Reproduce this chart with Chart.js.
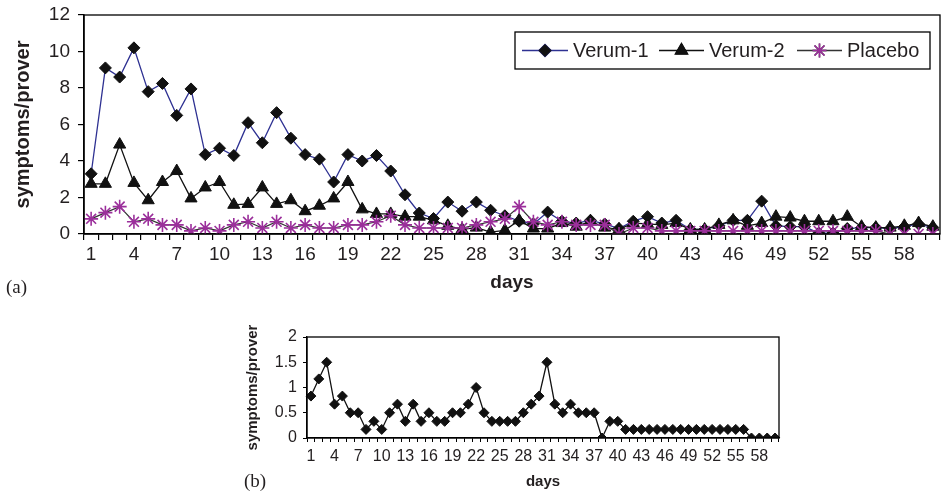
<!DOCTYPE html>
<html>
<head>
<meta charset="utf-8">
<title>symptoms per prover</title>
<script src="https://cdn.jsdelivr.net/npm/chart.js@4.4.0/dist/chart.umd.min.js"></script>
<style>
  body { margin: 0; background: #fff; width: 941px; height: 492px; overflow: hidden; position: relative; }
  #wrapA { position: absolute; left: 0; top: 0; width: 941px; height: 300px; }
  #wrapB { position: absolute; left: 228px; top: 320px; width: 562px; height: 172px; }
  .tag { position: absolute; font-family: "Liberation Serif", "Times New Roman", serif; font-size: 19px; color: #231f20; }
</style>
</head>
<body>
<div id="wrapA"><canvas id="chartA" width="941" height="300"></canvas></div>
<div id="wrapB"><canvas id="chartB" width="562" height="172"></canvas></div>
<div class="tag" style="left:6px;top:276px">(a)</div>
<div class="tag" style="left:244px;top:470px">(b)</div>
<script>
// days of the proving
const days = [
  '1', '2', '3', '4', '5', '6', '7', '8', '9', '10',
  '11', '12', '13', '14', '15', '16', '17', '18', '19', '20',
  '21', '22', '23', '24', '25', '26', '27', '28', '29', '30',
  '31', '32', '33', '34', '35', '36', '37', '38', '39', '40',
  '41', '42', '43', '44', '45', '46', '47', '48', '49', '50',
  '51', '52', '53', '54', '55', '56', '57', '58', '59', '60'
];
// only every third day gets a label
const shownDays = ['1', '4', '7', '10', '13', '16', '19', '22', '25', '28', '31',
  '34', '37', '40', '43', '46', '49', '52', '55', '58'];

const verum1 = [
  3.3, 9.1, 8.6, 10.2, 7.8, 8.25, 6.5, 7.95, 4.35, 4.7,
  4.3, 6.1, 5.0, 6.65, 5.25, 4.35, 4.1, 2.85, 4.35, 4.0,
  4.3, 3.45, 2.15, 1.15, 0.85, 1.75, 1.25, 1.75, 1.3, 1.0,
  0.7, 0.55, 1.2, 0.7, 0.6, 0.75, 0.55, 0.3, 0.7, 0.95,
  0.6, 0.75, 0.25, 0.25, 0.45, 0.75, 0.75, 1.8, 0.45, 0.4,
  0.4, 0.05, 0.05, 0.3, 0.35, 0.35, 0.3, 0.4, 0.55, 0.35
];
const verum2 = [
  2.75, 2.75, 4.9, 2.8, 1.85, 2.85, 3.45, 1.95, 2.55, 2.85,
  1.6, 1.65, 2.55, 1.65, 1.85, 1.25, 1.55, 1.95, 2.85, 1.35,
  1.1, 1.1, 0.95, 0.95, 0.75, 0.45, 0.25, 0.35, 0.1, 0.2,
  0.75, 0.3, 0.3, 0.6, 0.4, 0.7, 0.35, 0.25, 0.6, 0.55,
  0.5, 0.6, 0.25, 0.25, 0.5, 0.75, 0.45, 0.6, 0.95, 0.9,
  0.7, 0.7, 0.7, 0.95, 0.4, 0.35, 0.35, 0.45, 0.6, 0.4
];
const placebo = [
  0.83, 1.17, 1.5, 0.67, 0.83, 0.5, 0.5, 0.17, 0.33, 0.17,
  0.5, 0.67, 0.33, 0.67, 0.33, 0.5, 0.33, 0.33, 0.5, 0.5,
  0.67, 1.0, 0.5, 0.33, 0.33, 0.33, 0.33, 0.5, 0.67, 0.83,
  1.5, 0.67, 0.5, 0.67, 0.5, 0.5, 0.5, 0, 0.33, 0.33,
  0.17, 0.17, 0.17, 0.17, 0.17, 0.17, 0.17, 0.17, 0.17, 0.17,
  0.17, 0.17, 0.17, 0.17, 0.17, 0.17, 0, 0, 0, 0
];

const FONT = '"Liberation Sans", Arial, sans-serif';
const INK = '#231f20';
const V1_LINE = '#2e3192';
const PLACEBO_MARK = '#9b2f9b';

// box around the plot area (top and right edges)
const frame = {
  id: 'frame',
  afterDraw(chart) {
    const { ctx, chartArea: a } = chart;
    ctx.save();
    ctx.strokeStyle = '#000';
    ctx.lineWidth = 1.3;
    ctx.strokeRect(a.left, a.top, a.right - a.left, a.bottom - a.top);
    ctx.restore();
  }
};

// excel style legend: short line with the marker in the middle
const boxLegend = {
  id: 'boxLegend',
  afterDraw(chart) {
    const ctx = chart.ctx;
    const top = 32, bottom = 69, left = 515, right = 930;
    const cy = (top + bottom) / 2;
    ctx.save();
    ctx.fillStyle = '#fff';
    ctx.fillRect(left, top, right - left, bottom - top);
    ctx.strokeStyle = '#000';
    ctx.lineWidth = 1.3;
    ctx.strokeRect(left, top, right - left, bottom - top);

    const items = [
      { ds: 0, x0: 522, x1: 568, tx: 573 },
      { ds: 1, x0: 659, x1: 704, tx: 709 },
      { ds: 2, x0: 797, x1: 842, tx: 847 }
    ];
    items.forEach(it => {
      const ds = chart.data.datasets[it.ds];
      ctx.strokeStyle = ds.borderColor;
      ctx.lineWidth = 1.5;
      ctx.beginPath();
      ctx.moveTo(it.x0, cy);
      ctx.lineTo(it.x1, cy);
      ctx.stroke();
      Chart.helpers.drawPoint(ctx, {
        pointStyle: ds.pointStyle,
        radius: ds.pointRadius,
        borderWidth: ds.pointBorderWidth
      }, (it.x0 + it.x1) / 2, cy);
      ctx.fillStyle = ds.pointBackgroundColor;
      ctx.strokeStyle = ds.pointBorderColor;
      ctx.lineWidth = ds.pointBorderWidth;
      if (ds.pointStyle !== 'star') ctx.fill();
      ctx.stroke();
      ctx.fillStyle = INK;
      ctx.font = '20px ' + FONT;
      ctx.textBaseline = 'middle';
      ctx.fillText(ds.label, it.tx, cy + 1);
    });
    ctx.restore();
  }
};

function dayTick(value) {
  const lab = this.getLabelForValue(value);
  return shownDays.includes(lab) ? lab : '';
}

// fixed axis boxes so the plot areas land where the figure has them
function fixX(h) {
  return scale => { scale.height = h; scale.paddingLeft = 0; scale.paddingRight = 0; };
}
function fixY(w) {
  return scale => { scale.width = w; scale.paddingTop = 0; scale.paddingBottom = 0; };
}

// top chart (a)
new Chart(document.getElementById('chartA'), {
  type: 'line',
  data: {
    labels: days,
    datasets: [
      {
        label: 'Verum-1', data: verum1, order: 3,
        borderColor: V1_LINE, borderWidth: 1.3,
        pointStyle: 'rectRot', pointRadius: 6,
        pointBackgroundColor: '#111', pointBorderColor: '#111', pointBorderWidth: 1
      },
      {
        label: 'Verum-2', data: verum2, order: 2,
        borderColor: '#111', borderWidth: 1.3,
        pointStyle: 'triangle', pointRadius: 7,
        pointBackgroundColor: '#111', pointBorderColor: '#111', pointBorderWidth: 1
      },
      {
        label: 'Placebo', data: placebo, order: 1,
        borderColor: '#333', borderWidth: 1.2,
        pointStyle: 'star', pointRadius: 7,
        pointBackgroundColor: PLACEBO_MARK, pointBorderColor: PLACEBO_MARK, pointBorderWidth: 1.6
      }
    ]
  },
  options: {
    responsive: false,
    animation: false,
    devicePixelRatio: 1,
    layout: { autoPadding: false, padding: { top: 15, right: 1, left: 0, bottom: 0 } },
    elements: { line: { tension: 0 } },
    plugins: { legend: { display: false }, tooltip: { enabled: false } },
    scales: {
      x: {
        type: 'category',
        offset: true,
        grid: { offset: true, drawOnChartArea: false, tickLength: 6, color: '#000', lineWidth: 1.2 },
        border: { color: '#000', width: 1.5 },
        ticks: { autoSkip: false, maxRotation: 0, padding: 3, color: INK, font: { family: FONT, size: 19 }, callback: dayTick },
        title: { display: true, text: 'days', color: INK, font: { family: FONT, size: 19, weight: 'bold' }, padding: { top: 0, bottom: 6 } },
        afterFit: fixX(66)
      },
      y: {
        min: 0, max: 12,
        grid: { drawOnChartArea: false, tickLength: 6, color: '#000', lineWidth: 1.2 },
        border: { color: '#000', width: 1.5 },
        ticks: { stepSize: 2, padding: 8, color: INK, font: { family: FONT, size: 19 } },
        title: { display: true, text: 'symptoms/prover', color: INK, font: { family: FONT, size: 20, weight: 'bold' }, padding: { top: 11, bottom: 0 } },
        afterFit: fixY(84)
      }
    }
  },
  plugins: [frame, boxLegend]
});

// bottom chart (b): placebo alone
new Chart(document.getElementById('chartB'), {
  type: 'line',
  data: {
    labels: days,
    datasets: [{
      label: 'Placebo', data: placebo,
      borderColor: '#111', borderWidth: 1.3,
      pointStyle: 'rectRot', pointRadius: 5,
      pointBackgroundColor: '#111', pointBorderColor: '#111', pointBorderWidth: 1
    }]
  },
  options: {
    responsive: false,
    animation: false,
    devicePixelRatio: 1,
    layout: { autoPadding: false, padding: { top: 17, right: 11, left: 0, bottom: 0 } },
    elements: { line: { tension: 0 } },
    plugins: { legend: { display: false }, tooltip: { enabled: false } },
    scales: {
      x: {
        type: 'category',
        offset: true,
        grid: { offset: true, drawOnChartArea: false, tickLength: 4, color: '#000', lineWidth: 1 },
        border: { color: '#000', width: 1.3 },
        ticks: { autoSkip: false, maxRotation: 0, padding: 5, color: INK, font: { family: FONT, size: 16 }, callback: dayTick },
        title: { display: true, text: 'days', color: INK, font: { family: FONT, size: 15, weight: 'bold' }, padding: { top: 0, bottom: 1 } },
        afterFit: fixX(54)
      },
      y: {
        min: 0, max: 2,
        grid: { drawOnChartArea: false, tickLength: 4, color: '#000', lineWidth: 1 },
        border: { color: '#000', width: 1.3 },
        ticks: { stepSize: 0.5, padding: 6, color: INK, font: { family: FONT, size: 16 }, callback: v => String(v) },
        title: { display: true, text: 'symptoms/prover', color: INK, font: { family: FONT, size: 15, weight: 'bold' }, padding: { top: 16, bottom: 0 } },
        afterFit: fixY(79)
      }
    }
  },
  plugins: [frame]
});
</script>
</body>
</html>
